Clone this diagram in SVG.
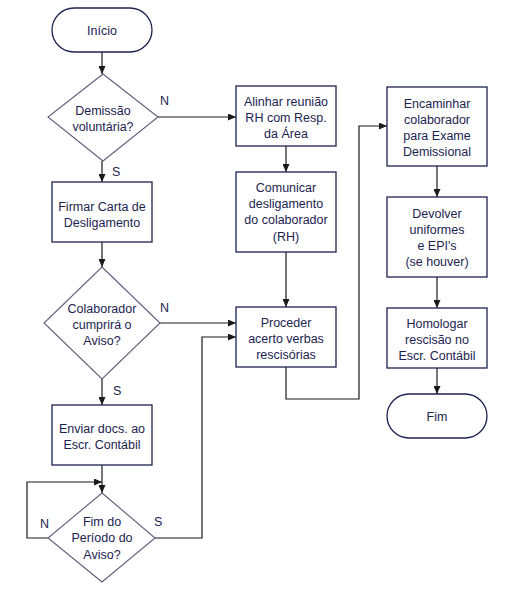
<svg xmlns="http://www.w3.org/2000/svg" width="516" height="608" viewBox="0 0 516 608">
<style>
.box{fill:#fff;stroke:#1c2350;stroke-width:1.3}
.dia{fill:#fff;stroke:#5a5f7a;stroke-width:1.1}
.t{font-family:"Liberation Sans",Arial,sans-serif;font-size:12.5px;fill:#1c2350;text-anchor:middle}
.lbl{font-family:"Liberation Sans",Arial,sans-serif;font-size:12.5px;fill:#1c2350}
.c{fill:none;stroke:#1a1a1a;stroke-width:1.2}
</style>
<defs>
<marker id="ar" markerWidth="8" markerHeight="7" refX="8" refY="3.5" orient="auto" markerUnits="userSpaceOnUse">
<path d="M0,0 L8,3.5 L0,7 z" fill="#1a1a1a"/>
</marker>
</defs>
<rect width="516" height="608" fill="#fff"/>
<g id="connectors">
<path class="c" d="M102,52 V74" marker-end="url(#ar)"/>
<path class="c" d="M158,117 H236" marker-end="url(#ar)"/>
<path class="c" d="M102,161 V182" marker-end="url(#ar)"/>
<path class="c" d="M286,146 V172" marker-end="url(#ar)"/>
<path class="c" d="M286,252 V307" marker-end="url(#ar)"/>
<path class="c" d="M102,242 V267" marker-end="url(#ar)"/>
<path class="c" d="M160,323 H236" marker-end="url(#ar)"/>
<path class="c" d="M102,379 V405" marker-end="url(#ar)"/>
<path class="c" d="M102,465 V493" marker-end="url(#ar)"/>
<path class="c" d="M48,538 H27 V482 H102" marker-end="url(#ar)"/>
<path class="c" d="M155,538 H202 V337 H236" marker-end="url(#ar)"/>
<path class="c" d="M286,367 V399 H359 V126 H387" marker-end="url(#ar)"/>
<path class="c" d="M437,166 V197" marker-end="url(#ar)"/>
<path class="c" d="M437,277 V308" marker-end="url(#ar)"/>
<path class="c" d="M437,368 V394" marker-end="url(#ar)"/>
<text class="lbl" x="160" y="105">N</text>
<text class="lbl" x="112" y="176">S</text>
<text class="lbl" x="160" y="312">N</text>
<text class="lbl" x="113" y="395">S</text>
<text class="lbl" x="40" y="528">N</text>
<text class="lbl" x="154" y="526">S</text>
</g>
<g id="inicio">
<rect class="box" x="52" y="8" width="100" height="44" rx="22"/>
<text class="t" x="102" y="35">Início</text>
</g>
<g id="demissao">
<polygon class="dia" points="103,74 158,117 103,161 48,117"/>
<text class="t" x="103" y="115">Demissão</text>
<text class="t" x="103" y="131">voluntária?</text>
</g>
<g id="firmar">
<rect class="box" x="52" y="182" width="100" height="60"/>
<text class="t" x="102" y="211">Firmar Carta de</text>
<text class="t" x="102" y="227">Desligamento</text>
</g>
<g id="cumprira">
<polygon class="dia" points="102,267 160,323 102,379 44,323"/>
<text class="t" x="102" y="313">Colaborador</text>
<text class="t" x="102" y="329">cumprirá o</text>
<text class="t" x="102" y="345">Aviso?</text>
</g>
<g id="enviar">
<rect class="box" x="52" y="405" width="100" height="60"/>
<text class="t" x="102" y="433">Enviar docs. ao</text>
<text class="t" x="102" y="449">Escr. Contábil</text>
</g>
<g id="fimperiodo">
<polygon class="dia" points="102,493 155,538 102,582 48,538"/>
<text class="t" x="102" y="526">Fim do</text>
<text class="t" x="102" y="542">Período do</text>
<text class="t" x="102" y="559">Aviso?</text>
</g>
<g id="alinhar">
<rect class="box" x="236" y="86" width="100" height="60"/>
<text class="t" x="286" y="106">Alinhar reunião</text>
<text class="t" x="286" y="122">RH com Resp.</text>
<text class="t" x="286" y="138">da Área</text>
</g>
<g id="comunicar">
<rect class="box" x="236" y="172" width="100" height="80"/>
<text class="t" x="286" y="192">Comunicar</text>
<text class="t" x="286" y="208">desligamento</text>
<text class="t" x="286" y="224">do colaborador</text>
<text class="t" x="286" y="241">(RH)</text>
</g>
<g id="proceder">
<rect class="box" x="236" y="307" width="100" height="60"/>
<text class="t" x="286" y="327">Proceder</text>
<text class="t" x="286" y="343">acerto verbas</text>
<text class="t" x="286" y="359">rescisórias</text>
</g>
<g id="encaminhar">
<rect class="box" x="387" y="87" width="100" height="79"/>
<text class="t" x="437" y="108">Encaminhar</text>
<text class="t" x="437" y="124">colaborador</text>
<text class="t" x="437" y="140">para Exame</text>
<text class="t" x="437" y="156">Demissional</text>
</g>
<g id="devolver">
<rect class="box" x="387" y="197" width="100" height="80"/>
<text class="t" x="437" y="218">Devolver</text>
<text class="t" x="437" y="234">uniformes</text>
<text class="t" x="437" y="250">e EPI's</text>
<text class="t" x="437" y="266">(se houver)</text>
</g>
<g id="homologar">
<rect class="box" x="387" y="308" width="100" height="60"/>
<text class="t" x="437" y="328">Homologar</text>
<text class="t" x="437" y="344">rescisão no</text>
<text class="t" x="437" y="360">Escr. Contábil</text>
</g>
<g id="fim">
<rect class="box" x="387" y="394" width="100" height="44" rx="22"/>
<text class="t" x="437" y="421">Fim</text>
</g>
</svg>
